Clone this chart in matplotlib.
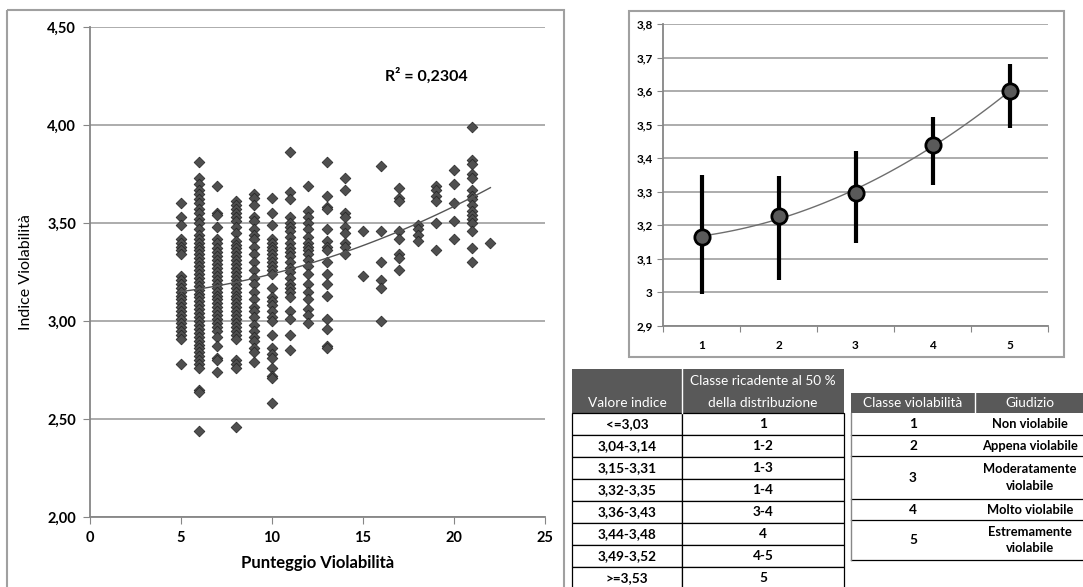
import numpy as np
import matplotlib.pyplot as plt
from matplotlib.patches import Rectangle
from matplotlib.ticker import FuncFormatter, MultipleLocator

plt.rcParams['font.family'] = ['Lato', 'DejaVu Sans']
plt.rcParams['font.weight'] = 'bold'

# --- scatter: indice di violabilita per ciascun punteggio
pv5 = [3.60, 3.53, 3.49, 3.42, 3.40, 3.38, 3.36, 3.34, 3.23, 3.21, 3.19, 3.17, 3.15, 3.13,
       3.11, 3.09, 3.07, 3.05, 3.03, 3.01, 2.99, 2.97, 2.95, 2.93, 2.91, 2.78]
pv6 = [3.81, 3.73, 3.70, 3.67, 3.65, 3.62, 3.60, 3.57, 3.55, 3.52, 3.50, 3.47, 3.44, 3.42,
       3.40, 3.38, 3.36, 3.34, 3.32, 3.30, 3.28, 3.26, 3.24, 3.22, 3.20, 3.18, 3.16, 3.14,
       3.12, 3.10, 3.08, 3.06, 3.04, 3.02, 3.00, 2.98, 2.96, 2.94, 2.92, 2.90, 2.88, 2.86,
       2.84, 2.82, 2.80, 2.78, 2.76, 2.65, 2.64, 2.44]
pv7 = [3.69, 3.55, 3.54, 3.48, 3.42, 3.40, 3.37, 3.35, 3.33, 3.31, 3.29, 3.27, 3.25, 3.23,
       3.21, 3.19, 3.17, 3.15, 3.13, 3.11, 3.09, 3.07, 3.05, 3.03, 3.01, 2.99, 2.97, 2.95,
       2.92, 2.87, 2.81, 2.80, 2.74]
pv8 = [3.61, 3.59, 3.57, 3.55, 3.53, 3.51, 3.48, 3.45, 3.41, 3.39, 3.37, 3.35, 3.33, 3.31,
       3.29, 3.27, 3.25, 3.23, 3.21, 3.19, 3.17, 3.15, 3.13, 3.11, 3.09, 3.07, 3.05, 3.03,
       3.01, 2.99, 2.97, 2.95, 2.93, 2.91, 2.80, 2.78, 2.76, 2.46]
pv9 = [3.65, 3.63, 3.59, 3.53, 3.51, 3.47, 3.44, 3.42, 3.38, 3.34, 3.30, 3.26, 3.22, 3.19,
       3.15, 3.11, 3.07, 3.05, 3.02, 2.98, 2.95, 2.92, 2.90, 2.86, 2.84, 2.79]
pv10 = [3.63, 3.55, 3.49, 3.42, 3.40, 3.38, 3.36, 3.34, 3.32, 3.30, 3.28, 3.26, 3.24, 3.17,
        3.12, 3.10, 3.08, 3.05, 3.02, 3.00, 2.93, 2.86, 2.83, 2.81, 2.76, 2.72, 2.71, 2.58]
pv11 = [3.86, 3.66, 3.62, 3.53, 3.50, 3.48, 3.46, 3.43, 3.40, 3.37, 3.35, 3.33, 3.30, 3.27,
        3.25, 3.22, 3.19, 3.17, 3.15, 3.12, 3.05, 3.01, 2.93, 2.85]
pv12 = [3.69, 3.56, 3.53, 3.50, 3.47, 3.43, 3.40, 3.38, 3.36, 3.34, 3.31, 3.28, 3.24, 3.19,
        3.15, 3.11, 3.06, 3.03, 2.99]
pv13 = [3.81, 3.64, 3.58, 3.57, 3.47, 3.41, 3.38, 3.36, 3.30, 3.24, 3.19, 3.13, 3.01, 2.96,
        2.87, 2.86]
pv14 = [3.73, 3.67, 3.55, 3.53, 3.48, 3.45, 3.40, 3.38, 3.34]
pv15 = [3.46, 3.23]
pv16 = [3.79, 3.46, 3.30, 3.21, 3.17, 3.00]
pv17 = [3.68, 3.63, 3.61, 3.46, 3.42, 3.34, 3.32, 3.26]
pv18 = [3.49, 3.47, 3.44, 3.41]
pv19 = [3.69, 3.67, 3.64, 3.61, 3.50, 3.36]
pv20 = [3.77, 3.70, 3.60, 3.51, 3.42]
pv21 = [3.99, 3.82, 3.80, 3.75, 3.73, 3.67, 3.64, 3.62, 3.59, 3.56, 3.54, 3.52, 3.50, 3.46,
        3.37, 3.30]
pv22 = [3.40]

punteggio = list(range(5, 23))
indice = [pv5, pv6, pv7, pv8, pv9, pv10, pv11, pv12, pv13, pv14, pv15, pv16, pv17, pv18,
          pv19, pv20, pv21, pv22]

# trend polinomiale (c2, c1, c0)
trend_coef = [0.0011, 0.0015, 3.115]
r2_text = "R² = 0,2304"

# --- medie per classe con barre
classe = [1, 2, 3, 4, 5]
media = [3.165, 3.229, 3.296, 3.44, 3.599]
err_low = [2.995, 3.037, 3.147, 3.321, 3.49]
err_high = [3.349, 3.346, 3.423, 3.522, 3.681]

# --- tabelle
valore_indice = ['<=3,03', '3,04-3,14', '3,15-3,31', '3,32-3,35', '3,36-3,43',
                 '3,44-3,48', '3,49-3,52', '>=3,53']
classe_50 = ['1', '1-2', '1-3', '1-4', '3-4', '4', '4-5', '5']
classi = ['1', '2', '3', '4', '5']
giudizio = ['Non violabile', 'Appena violabile', 'Moderatamente\nviolabile',
            'Molto violabile', 'Estremamente\nviolabile']

W, H = 1083, 587
fig = plt.figure(figsize=(W / 100, H / 100), dpi=100)

# overlay in pixel coords for frames and tables
ov = fig.add_axes([0, 0, 1, 1])
ov.set_xlim(0, W)
ov.set_ylim(H, 0)
ov.axis('off')

frame_col = '#a0a0a0'
ov.add_patch(Rectangle((7, 10), 557, 590, fill=False, ec=frame_col, lw=1.5))
ov.add_patch(Rectangle((629, 11), 435, 346, fill=False, ec=frame_col, lw=1.5))

grid_col = '#a6a6a6'
spine_col = '#868686'


def comma(fmt):
    return FuncFormatter(lambda v, p: fmt(v).replace('.', ','))


# ---------------- left: scatter
ax1 = fig.add_axes([90 / W, 1 - 517 / H, 455 / W, 490 / H])
ax1.set_facecolor('none')
for x, vals in zip(punteggio, indice):
    ax1.scatter([x] * len(vals), vals, marker='D', s=30, c='#4f4f4f',
                edgecolors='#222222', linewidths=0.5, zorder=3)
xt = np.linspace(5, 22, 100)
ax1.plot(xt, np.polyval(trend_coef, xt), color='#555555', lw=1, zorder=4)
ax1.set_xlim(0, 25)
ax1.set_ylim(2, 4.5)
ax1.xaxis.set_major_locator(MultipleLocator(5))
ax1.yaxis.set_major_locator(MultipleLocator(0.5))
ax1.yaxis.set_major_formatter(comma(lambda v: f"{v:.2f}"))
ax1.grid(axis='y', color=grid_col, lw=1.3)
ax1.set_axisbelow(True)
for s in ['top', 'right']:
    ax1.spines[s].set_visible(False)
for s in ['left', 'bottom']:
    ax1.spines[s].set_color(spine_col)
    ax1.spines[s].set_linewidth(1.3)
ax1.tick_params(direction='out', length=5, color=spine_col, labelsize=10.5, pad=5)
ax1.set_xlabel('Punteggio Violabilità', fontsize=12, fontweight='bold', labelpad=7)
ax1.set_ylabel('Indice Violabilità', fontsize=11.5, fontweight='normal', labelpad=10)
ax1.text(18.5, 4.25, r2_text, fontsize=11.5, fontweight='bold', ha='center', va='center')

# ---------------- right: medie per classe
ax2 = fig.add_axes([663 / W, 1 - 326 / H, 385 / W, 302 / H])
ax2.set_facecolor('none')
m = np.array(media)
ax2.errorbar(classe, media, yerr=[m - np.array(err_low), np.array(err_high) - m],
             fmt='none', ecolor='black', elinewidth=3, capsize=0, zorder=3)
cc = np.polyfit(classe, media, 2)
xc = np.linspace(1, 5, 100)
ax2.plot(xc, np.polyval(cc, xc), color='#6e6e6e', lw=1, zorder=4)
ax2.plot(classe, media, 'o', ms=11, mfc='#5a5a5a', mec='black', mew=2, zorder=5)
ax2.set_xlim(0.5, 5.5)
ax2.set_ylim(2.9, 3.8)
ax2.set_xticks([0.5, 1.5, 2.5, 3.5, 4.5, 5.5])
ax2.set_xticklabels([])
ax2.set_xticks(classe, minor=True)
ax2.set_xticklabels([str(c) for c in classe], minor=True)
ax2.tick_params(axis='x', which='minor', length=0, pad=10, labelsize=8.5)
ax2.yaxis.set_major_locator(MultipleLocator(0.1))
ax2.yaxis.set_major_formatter(comma(lambda v: f"{round(v, 1):g}"))
ax2.grid(axis='y', color=grid_col, lw=1.3)
ax2.set_axisbelow(True)
for s in ['top', 'right']:
    ax2.spines[s].set_visible(False)
for s in ['left', 'bottom']:
    ax2.spines[s].set_color(spine_col)
    ax2.spines[s].set_linewidth(1.3)
ax2.tick_params(axis='both', which='major', direction='out', length=4, color=spine_col,
                labelsize=8.5)

# ---------------- table 1
hdr_col = '#595959'
hfs = 9.8
tfs = 9.8
x0, xm, x1 = 572, 682, 844
ov.add_patch(Rectangle((x0, 369), x1 - x0, 44, fc=hdr_col, ec='none'))
ov.plot([xm, xm], [369, 413], color='white', lw=1)
ov.text((x0 + xm) / 2, 403, 'Valore indice', color='white', fontsize=hfs,
        fontweight='normal', ha='center', va='center')
ov.text((xm + x1) / 2, 381, 'Classe ricadente al 50 %', color='white', fontsize=hfs,
        fontweight='normal', ha='center', va='center')
ov.text((xm + x1) / 2, 403, 'della distribuzione', color='white', fontsize=hfs,
        fontweight='normal', ha='center', va='center')
rh = 22
for i, (a, b) in enumerate(zip(valore_indice, classe_50)):
    yt = 413 + i * rh
    ov.add_patch(Rectangle((x0, yt), xm - x0, rh, fc='white', ec='black', lw=0.9))
    ov.add_patch(Rectangle((xm, yt), x1 - xm, rh, fc='white', ec='black', lw=0.9))
    ov.text((x0 + xm) / 2, yt + rh / 2, a, fontsize=tfs, ha='center', va='center')
    ov.text((xm + x1) / 2, yt + rh / 2, b, fontsize=tfs, ha='center', va='center')

# ---------------- table 2
x0, xm, x1 = 851, 975, 1100
gx = 1030
ov.add_patch(Rectangle((x0, 393), x1 - x0, 20, fc=hdr_col, ec='none'))
ov.plot([xm, xm], [393, 413], color='white', lw=1)
ov.text((x0 + xm) / 2, 403, 'Classe violabilità', color='white', fontsize=hfs,
        fontweight='normal', ha='center', va='center')
ov.text(gx, 403, 'Giudizio', color='white', fontsize=hfs, fontweight='normal',
        ha='center', va='center')
row_h = [22, 21, 43, 21, 40]
yt = 413
for c, g, h in zip(classi, giudizio, row_h):
    ov.plot([x0, x1], [yt + h, yt + h], color='black', lw=0.9)
    ov.text((x0 + xm) / 2, yt + h / 2, c, fontsize=tfs, ha='center', va='center')
    ov.text(gx, yt + h / 2, g, fontsize=9.3, ha='center', va='center', linespacing=1.5)
    yt += h
ov.plot([x0, x0], [413, yt], color='#888888', lw=1)

fig.savefig('out.png', dpi=100)
